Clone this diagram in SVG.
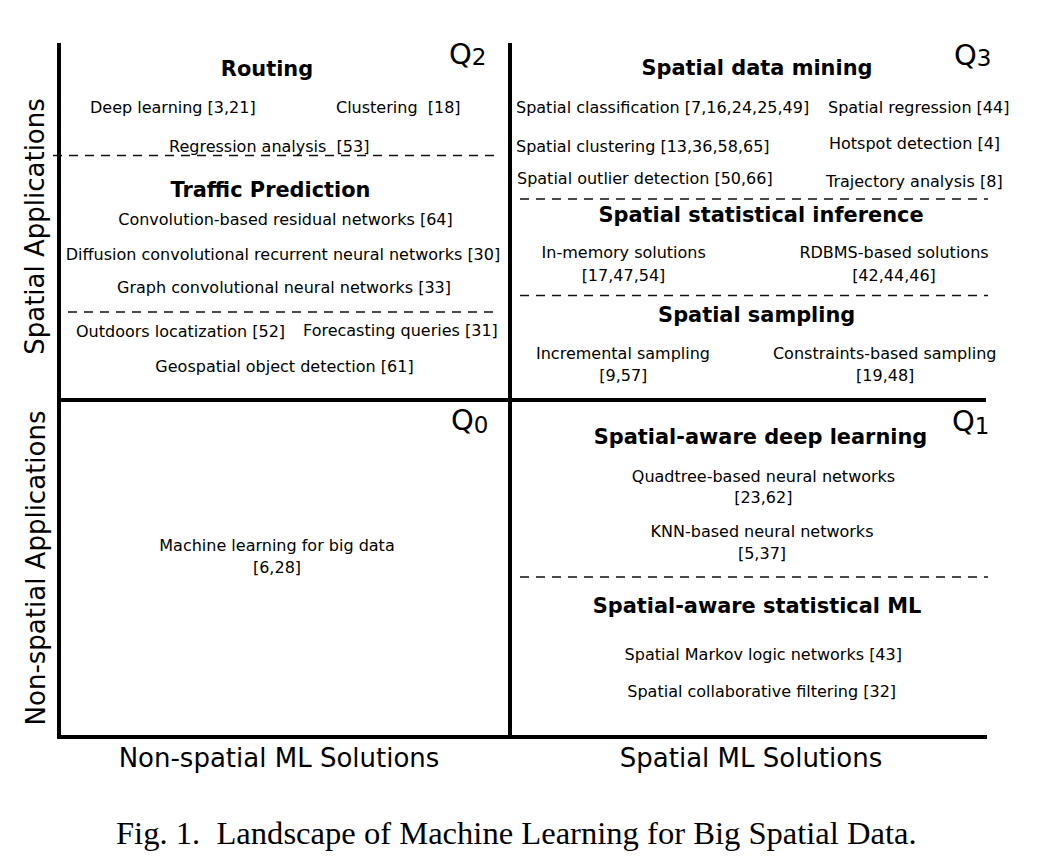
<svg xmlns="http://www.w3.org/2000/svg" width="1045" height="861" viewBox="0 0 1045 861">
<style>
.t{font-family:"DejaVu Sans",Verdana,sans-serif;font-size:16px;fill:#000}
.c{text-anchor:middle}
.h{font-family:"DejaVu Sans",Verdana,sans-serif;font-size:20.9px;font-weight:bold;fill:#000;text-anchor:middle}
.ax{font-family:"DejaVu Sans",Verdana,sans-serif;font-size:26px;fill:#000;text-anchor:middle}
.q{font-family:"DejaVu Sans",Verdana,sans-serif;font-size:29px;fill:#000}
.qs{font-size:23px}
.axis{stroke:#000;stroke-width:4;fill:none}
.dash{stroke:#111;stroke-width:1.7;stroke-dasharray:9 7;fill:none}
.cap{font-family:"Liberation Serif","Times New Roman",serif;font-size:32.6px;fill:#000}
</style>
<rect width="1045" height="861" fill="#fff"/>
<g id="connectors">
<line class="axis" x1="59" y1="43" x2="59" y2="739"/>
<line class="axis" x1="510" y1="43" x2="510" y2="400"/>
<line class="axis" x1="510" y1="400" x2="510" y2="737" stroke-width="3"/>
<line class="axis" x1="57" y1="400" x2="986" y2="400"/>
<line class="axis" x1="57" y1="737" x2="987" y2="737"/>
<line class="dash" x1="53" y1="155.5" x2="498" y2="155.5"/>
<line class="dash" x1="68" y1="312" x2="498" y2="312"/>
<line class="dash" x1="520" y1="199" x2="988" y2="199"/>
<line class="dash" x1="520" y1="295.5" x2="988" y2="295.5"/>
<line class="dash" x1="520" y1="577" x2="988" y2="577"/>
</g>
<g id="quadrant-labels">
<text class="q" x="449" y="64">Q<tspan class="qs" dy="1">2</tspan></text>
<text class="q" x="954" y="65">Q<tspan class="qs" dy="1">3</tspan></text>
<text class="q" x="451" y="430">Q<tspan class="qs" dy="3">0</tspan></text>
<text class="q" x="952" y="431">Q<tspan class="qs" dy="3">1</tspan></text>
</g>
<g id="axis-labels">
<text class="ax" x="751" y="767">Spatial ML Solutions</text>
<text class="ax" x="279" y="767">Non-spatial ML Solutions</text>
<text class="ax" transform="translate(44,226.5) rotate(-90)">Spatial Applications</text>
<text class="ax" transform="translate(45,568) rotate(-90)">Non-spatial Applications</text>
</g>
<g id="routing">
<text class="h" x="267" y="76">Routing</text>
<text class="t" x="90" y="113">Deep learning [3,21]</text>
<text class="t" x="336" y="113" xml:space="preserve">Clustering  [18]</text>
<text class="t" x="169" y="152" xml:space="preserve">Regression analysis  [53]</text>
</g>
<g id="traffic-prediction">
<text class="h" x="270.5" y="197">Traffic Prediction</text>
<text class="t c" x="285.5" y="225">Convolution-based residual networks [64]</text>
<text class="t c" x="283" y="260">Diffusion convolutional recurrent neural networks [30]</text>
<text class="t c" x="284" y="293">Graph convolutional neural networks [33]</text>
</g>
<g id="other-spatial-apps">
<text class="t" x="76" y="336.5">Outdoors locatization [52]</text>
<text class="t" x="303" y="336">Forecasting queries [31]</text>
<text class="t c" x="284.5" y="371.5">Geospatial object detection [61]</text>
</g>
<g id="spatial-data-mining">
<text class="h" x="757" y="75">Spatial data mining</text>
<text class="t" x="516" y="112.7">Spatial classification [7,16,24,25,49]</text>
<text class="t" x="828" y="112.7">Spatial regression [44]</text>
<text class="t" x="516" y="151.7">Spatial clustering [13,36,58,65]</text>
<text class="t" x="829" y="149.3">Hotspot detection [4]</text>
<text class="t" x="517" y="184.3">Spatial outlier detection [50,66]</text>
<text class="t" x="826" y="186.7">Trajectory analysis [8]</text>
</g>
<g id="spatial-statistical-inference">
<text class="h" x="761" y="222.3">Spatial statistical inference</text>
<text class="t c" x="623.7" y="258.3">In-memory solutions</text>
<text class="t c" x="623.5" y="280.7">[17,47,54]</text>
<text class="t c" x="894" y="258.3">RDBMS-based solutions</text>
<text class="t c" x="894" y="280.7">[42,44,46]</text>
</g>
<g id="spatial-sampling">
<text class="h" x="756.7" y="321.7">Spatial sampling</text>
<text class="t c" x="623" y="359">Incremental sampling</text>
<text class="t c" x="623.3" y="381">[9,57]</text>
<text class="t c" x="884.7" y="359">Constraints-based sampling</text>
<text class="t c" x="885.2" y="381">[19,48]</text>
</g>
<g id="spatial-aware-deep-learning">
<text class="h" x="760.5" y="444.3">Spatial-aware deep learning</text>
<text class="t c" x="763.5" y="481.7">Quadtree-based neural networks</text>
<text class="t c" x="763.3" y="503.3">[23,62]</text>
<text class="t c" x="762" y="536.7">KNN-based neural networks</text>
<text class="t c" x="762" y="559.3">[5,37]</text>
</g>
<g id="spatial-aware-statistical-ml">
<text class="h" x="757" y="613.3">Spatial-aware statistical ML</text>
<text class="t c" x="763.3" y="660">Spatial Markov logic networks [43]</text>
<text class="t c" x="761.7" y="697.3">Spatial collaborative filtering [32]</text>
</g>
<g id="ml-big-data">
<text class="t c" x="277" y="551">Machine learning for big data</text>
<text class="t c" x="277" y="573">[6,28]</text>
</g>
<g id="caption">
<text class="cap" x="116" y="844" xml:space="preserve">Fig. 1.  Landscape of Machine Learning for Big Spatial Data.</text>
</g>
</svg>
